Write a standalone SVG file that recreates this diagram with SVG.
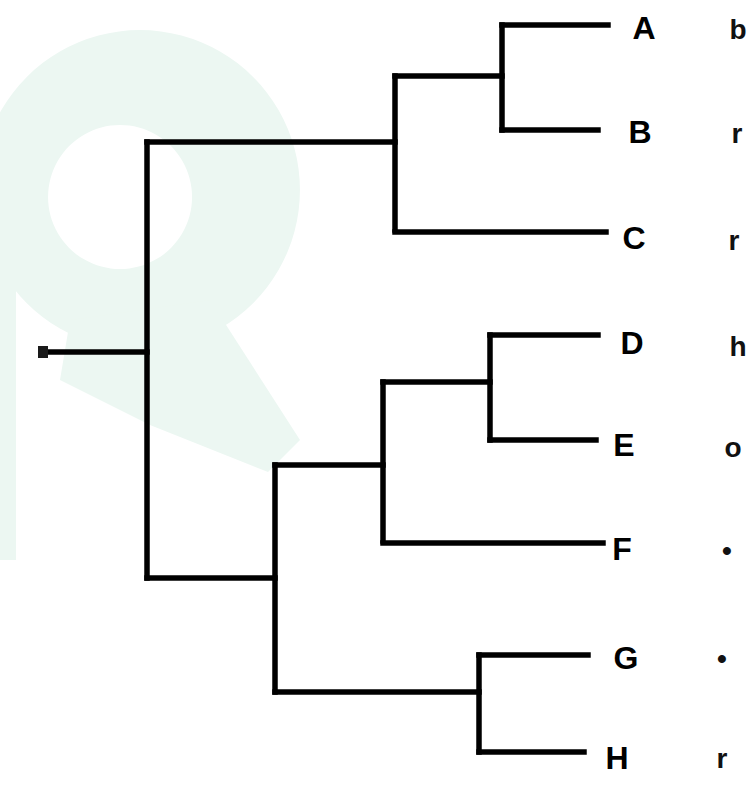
<svg xmlns="http://www.w3.org/2000/svg" width="751" height="798" viewBox="0 0 751 798">
  <style>
    .edge { fill: none; stroke: #000; stroke-width: 5.5; stroke-linecap: square; stroke-linejoin: miter; }
    .lbl { font-family: "Liberation Sans", Arial, sans-serif; font-weight: bold; font-size: 32px; fill: #000; text-anchor: middle; }
    .mark { font-family: "Liberation Sans", Arial, sans-serif; font-weight: bold; font-size: 28px; fill: #111; text-anchor: middle; }
    .wm { fill: #ecf7f2; }
  </style>
  <rect width="751" height="798" fill="#fff"/>
  <g id="watermark">
    <path class="wm" fill-rule="evenodd" d="M140,30 A160,160 0 1,1 139.9,30 Z M120,125 A72,72 0 1,0 120.1,125 Z"/>
    <polygon class="wm" points="70,320 210,300 300,440 268,472 150,425 60,380"/>
    <rect class="wm" x="0" y="180" width="16" height="380"/>
  </g>
  <g id="connectors">
    <path class="edge" d="M45,352 H147"/>
    <path class="edge" d="M147,142 V578"/>
    <path class="edge" d="M147,142 H395"/>
    <path class="edge" d="M395,76 V230"/>
    <path class="edge" d="M395,76 H502"/>
    <path class="edge" d="M502,25 V130"/>
    <path class="edge" d="M502,25 H608"/>
    <path class="edge" d="M502,130 H598"/>
    <path class="edge" d="M395,232 H606"/>
    <path class="edge" d="M147,578 H275"/>
    <path class="edge" d="M275,465 V692"/>
    <path class="edge" d="M275,465 H383"/>
    <path class="edge" d="M383,382 V541"/>
    <path class="edge" d="M383,382 H490"/>
    <path class="edge" d="M490,335 V440"/>
    <path class="edge" d="M490,335 H598"/>
    <path class="edge" d="M490,440 H596"/>
    <path class="edge" d="M383,543 H603"/>
    <path class="edge" d="M275,692 H479"/>
    <path class="edge" d="M479,655 V752"/>
    <path class="edge" d="M479,655 H588"/>
    <path class="edge" d="M479,752 H584"/>
    <rect x="38" y="346" width="10" height="12" fill="#1a1a1a"/>
  </g>
  <g id="node-A"><text class="lbl" x="644" y="39">A</text><text class="mark" x="738" y="39">b</text></g>
  <g id="node-B"><text class="lbl" x="640" y="143">B</text><text class="mark" x="737" y="143">r</text></g>
  <g id="node-C"><text class="lbl" x="634" y="249">C</text><text class="mark" x="734" y="250">r</text></g>
  <g id="node-D"><text class="lbl" x="632" y="354">D</text><text class="mark" x="738" y="356">h</text></g>
  <g id="node-E"><text class="lbl" x="624" y="456">E</text><text class="mark" x="733" y="457">o</text></g>
  <g id="node-F"><text class="lbl" x="622" y="560">F</text><text class="mark" x="727" y="560">•</text></g>
  <g id="node-G"><text class="lbl" x="626" y="669">G</text><text class="mark" x="722" y="668">•</text></g>
  <g id="node-H"><text class="lbl" x="617" y="769">H</text><text class="mark" x="722" y="768">r</text></g>
</svg>
